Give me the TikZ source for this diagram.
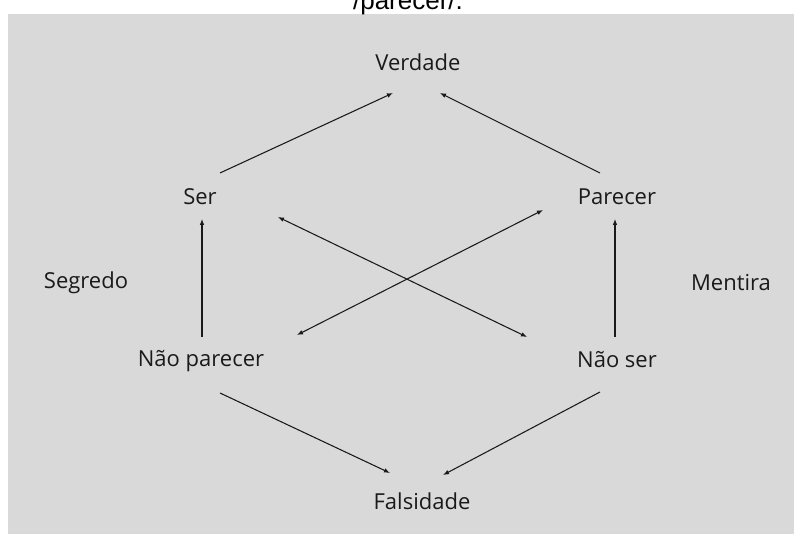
\documentclass[tikz,border=0pt]{standalone}
\usepackage{fontspec}
\setmainfont{Open Sans}
\newfontfamily\captionfont{Liberation Sans}
\usetikzlibrary{arrows.meta,calc}
\definecolor{panelgray}{HTML}{D9D9D9}
\definecolor{inkgray}{HTML}{1A1A1A}
\begin{document}
\begin{tikzpicture}[x=0.75pt,y=-0.75pt,
  term/.style={text=inkgray,font=\fontsize{16.5}{19}\selectfont,inner sep=0pt,
    text height=11.8pt,text depth=0pt},
  link/.style={draw=inkgray,line width=0.8pt,-{Latex[length=4.5pt,width=3.5pt]}},
  twoway/.style={link,{Latex[length=4.5pt,width=3.5pt]}-{Latex[length=4.5pt,width=3.5pt]}}]
  \useasboundingbox (0,0) rectangle (794,534);
  \clip (0,0) rectangle (794,534);
  % Panel
  \fill[panelgray] (8,14) rectangle (794,534);
  % Caption cut at the top
  \node[anchor=base,inner sep=0pt,font=\captionfont\fontsize{19.5}{22}\selectfont] (caption) at (408,9.5) {/parecer/.};
  % Terms
  \node[term] (verdade) at (418,63) {Verdade};
  \node[term] (ser) at (200,197) {Ser};
  \node[term] (parecer) at (617,197) {Parecer};
  \node[term] (segredo) at (86,281) {Segredo};
  \node[term] (mentira) at (731,283) {Mentira};
  \node[term] (naoparecer) at (201,359) {Não parecer};
  \node[term] (naoser) at (617,360) {Não ser};
  \node[term] (falsidade) at (422,502) {Falsidade};
  % Upper arrows
  \draw[link] ($(ser)+(20,-24)$) -- ($(verdade)+(-25,30)$);
  \draw[link] ($(parecer)+(-17,-24)$) -- ($(verdade)+(22,30)$);
  % Sides
  \draw[link] ($(naoparecer)+(1,-22)$) -- ($(ser)+(2,22)$);
  \draw[link] ($(naoser)+(-2,-23)$) -- ($(parecer)+(-2,22)$);
  % Lower arrows
  \draw[link] ($(naoparecer)+(19,34)$) -- ($(falsidade)+(-32,-29)$);
  \draw[link] ($(naoser)+(-17,32)$) -- ($(falsidade)+(21,-27)$);
  % Diagonals
  \draw[twoway] ($(ser)+(78,20)$) -- ($(naoser)+(-90,-23)$);
  \draw[twoway] ($(naoparecer)+(96,-24)$) -- ($(parecer)+(-74,13)$);
\end{tikzpicture}
\end{document}
